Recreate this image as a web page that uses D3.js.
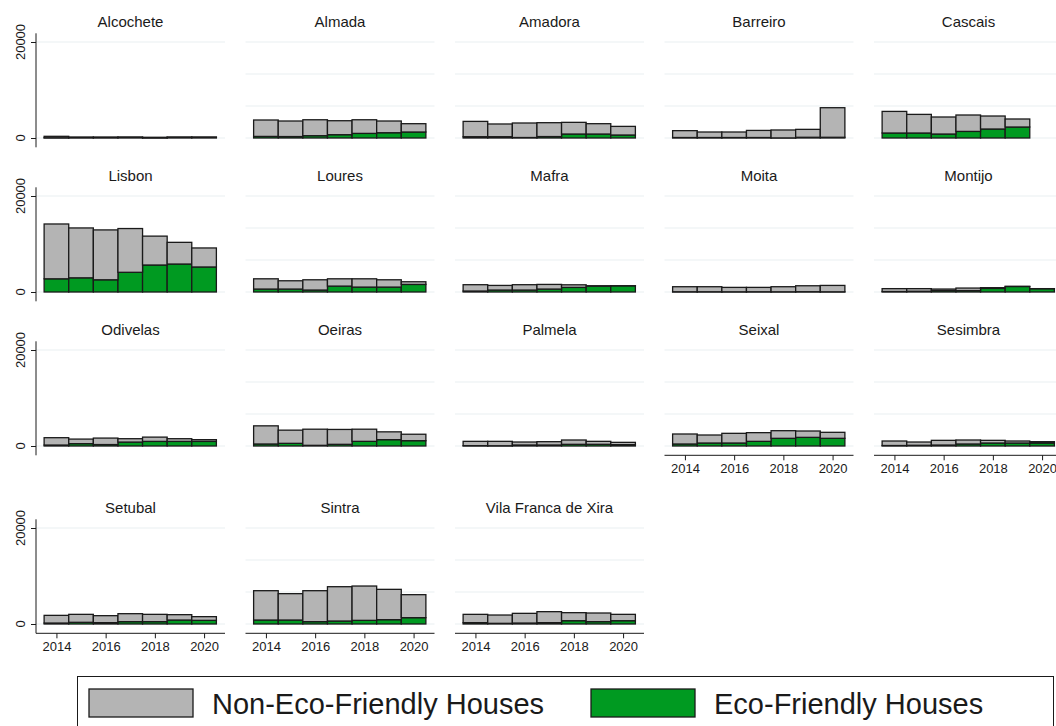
<!DOCTYPE html>
<html>
<head>
<meta charset="utf-8">
<script src="https://cdn.jsdelivr.net/npm/d3@7"></script>
<style>
  body { margin: 0; background: #fff; }
  svg { display: block; font-family: "Liberation Sans", Arial, Helvetica, sans-serif; }
</style>
</head>
<body>
<svg id="chart" width="1056" height="726"></svg>
<script>
// Housing stock by municipality, split into eco-friendly and other houses
const years = [2014, 2015, 2016, 2017, 2018, 2019, 2020];

const municipalities = [
  "Alcochete", "Almada", "Amadora", "Barreiro", "Cascais",
  "Lisbon", "Loures", "Mafra", "Moita", "Montijo",
  "Odivelas", "Oeiras", "Palmela", "Seixal", "Sesimbra",
  "Setubal", "Sintra", "Vila Franca de Xira"
];

// Eco-friendly houses, one row per municipality (2014..2020)
const ecoFriendly = [
  [50, 100, 100, 150, 20, 150, 150],
  [330, 300, 480, 690, 960, 1100, 1250],
  [270, 270, 100, 300, 830, 830, 625],
  [100, 100, 100, 100, 20, 150, 150],
  [1040, 1040, 830, 1375, 1875, 2290, null],
  [2750, 2955, 2545, 4105, 5625, 5830, 5215],
  [615, 615, 410, 1230, 1025, 1025, 1580],
  [200, 410, 410, 615, 960, 1220, 1280],
  [50, 50, 40, 50, 40, 60, 40],
  [100, 150, 300, 300, 750, 1150, 680],
  [200, 490, 300, 820, 960, 960, 960],
  [420, 555, 140, 350, 970, 1320, 1110],
  [70, 50, 210, 210, 350, 350, 280],
  [420, 625, 625, 970, 1600, 1800, 1600],
  [100, 150, 200, 420, 625, 625, 625],
  [200, 350, 280, 490, 490, 830, 760],
  [830, 830, 490, 625, 760, 900, 1320],
  [280, 140, 200, 280, 690, 490, 690]
];

// Non-eco-friendly houses, same layout
const nonEcoFriendly = [
  [300, 100, 100, 50, 130, 50, 50],
  [3420, 3240, 3320, 2910, 2840, 2440, 1730],
  [3190, 2650, 3025, 2890, 2430, 2150, 1795],
  [1430, 1150, 1150, 1480, 1650, 1650, 6160],
  [4500, 3880, 3545, 3415, 2705, 1670, null],
  [11420, 10390, 10390, 9115, 6015, 4515, 3960],
  [2135, 1725, 2135, 1520, 1725, 1520, 555],
  [1320, 960, 1110, 965, 540, 80, 20],
  [1050, 1050, 920, 910, 1060, 1240, 1330],
  [600, 550, 315, 520, 150, 20, 20],
  [1530, 950, 1350, 700, 890, 560, 360],
  [3780, 2745, 3360, 3100, 2530, 1630, 1340],
  [900, 920, 620, 690, 900, 620, 480],
  [2080, 1665, 2015, 1810, 1590, 1325, 1250],
  [940, 680, 980, 830, 555, 415, 275],
  [1600, 1660, 1455, 1660, 1520, 1115, 770],
  [6110, 5490, 6450, 7145, 7150, 6320, 4790],
  [1730, 1730, 2020, 2290, 1670, 1800, 1320]
];

const yTickValues = [0, 20000];
const xTickValues = [2014, 2016, 2018, 2020];
const seriesKeys = ["eco", "nonEco"];
const seriesLabels = { nonEco: "Non-Eco-Friendly Houses", eco: "Eco-Friendly Houses" };

const colors = { nonEco: "#b4b4b4", eco: "#009a21" };
const ink = "#1a1a1a";
const gridColor = "#e9eff1";

const svg = d3.select("#chart");

const nCols = 5;
const colStep = 209.5;
const firstLeft = 36;
const rowZero = [138, 292, 446, 624];
const panelW = 189;

const x = d3.scaleLinear().domain([2013.17, 2020.85]).range([0, panelW]);
const y = d3.scaleLinear().domain([-1940, 21810]).range([114, 0]);
const barW = x(2015) - x(2014);

const stack = d3.stack().keys(seriesKeys);

municipalities.forEach((name, i) => {
  const row = Math.floor(i / nCols);
  const col = i % nCols;
  const g = svg.append("g")
    .attr("transform", `translate(${firstLeft + col * colStep},${rowZero[row] - y(0)})`);

  // grid lines
  const gridVals = col === 0 ? [0, 20000] : d3.range(0, 20001, 20000 / 3);
  g.selectAll("line.grid").data(gridVals).join("line")
    .attr("class", "grid")
    .attr("x1", 0).attr("x2", panelW)
    .attr("y1", d => y(d)).attr("y2", d => y(d))
    .attr("stroke", gridColor).attr("stroke-width", 1.2);

  // title
  g.append("text")
    .attr("x", panelW / 2).attr("y", y(0) - 111)
    .attr("text-anchor", "middle")
    .attr("font-size", 15).attr("fill", ink)
    .text(name);

  // stacked bars
  const rows = years.map((yr, j) => ({
    year: yr,
    eco: ecoFriendly[i][j],
    nonEco: nonEcoFriendly[i][j]
  })).filter(d => d.eco !== null && d.nonEco !== null);

  const layers = stack(rows);
  layers.forEach(layer => {
    g.append("g").selectAll("rect").data(layer).join("rect")
      .attr("x", d => x(d.data.year) - barW / 2)
      .attr("width", barW)
      .attr("y", d => y(d[1]))
      .attr("height", d => Math.max(0, y(d[0]) - y(d[1])))
      .attr("fill", colors[layer.key])
      .attr("stroke", ink).attr("stroke-width", 1.3);
  });

  // y axis on the first column
  if (col === 0) {
    const ax = g.append("g").call(
      d3.axisLeft(y).tickValues(yTickValues).tickSize(5).tickFormat("")
    );
    ax.select(".domain").attr("stroke", ink).attr("d", `M0,${y.range()[0]}V${y.range()[1]}`);
    ax.selectAll(".tick line").attr("stroke", ink);
    g.selectAll("text.ylab").data(yTickValues).join("text")
      .attr("class", "ylab")
      .attr("transform", d => `translate(-16,${y(d)}) rotate(-90)`)
      .attr("dy", "0.35em")
      .attr("text-anchor", "middle")
      .attr("font-size", 13).attr("fill", ink)
      .text(d => d);
  }

  // x axis where no panel sits below
  if (i + nCols >= municipalities.length) {
    const ax = g.append("g")
      .attr("transform", `translate(0,${y.range()[0]})`)
      .call(d3.axisBottom(x).tickValues(xTickValues).tickSize(5).tickPadding(3).tickFormat(d3.format("d")));
    ax.select(".domain").attr("stroke", ink).attr("d", `M0,0H${panelW}`);
    ax.selectAll(".tick line").attr("stroke", ink);
    ax.selectAll(".tick text").attr("font-size", 13).attr("fill", ink)
      .attr("font-family", "Liberation Sans, Arial, sans-serif");
  }
});

// legend
const legend = svg.append("g");
legend.append("rect")
  .attr("x", 77.5).attr("y", 676.5).attr("width", 976).attr("height", 60)
  .attr("fill", "#fff").attr("stroke", ink).attr("stroke-width", 1);

const legendItems = [
  { key: "nonEco", sx: 89, tx: 212 },
  { key: "eco", sx: 591, tx: 714 }
];
legendItems.forEach(it => {
  legend.append("rect")
    .attr("x", it.sx).attr("y", 689).attr("width", 104).attr("height", 28)
    .attr("fill", colors[it.key]).attr("stroke", ink).attr("stroke-width", 1.3);
  legend.append("text")
    .attr("x", it.tx).attr("y", 714)
    .attr("font-size", 29).attr("fill", ink)
    .text(seriesLabels[it.key]);
});
</script>
</body>
</html>
